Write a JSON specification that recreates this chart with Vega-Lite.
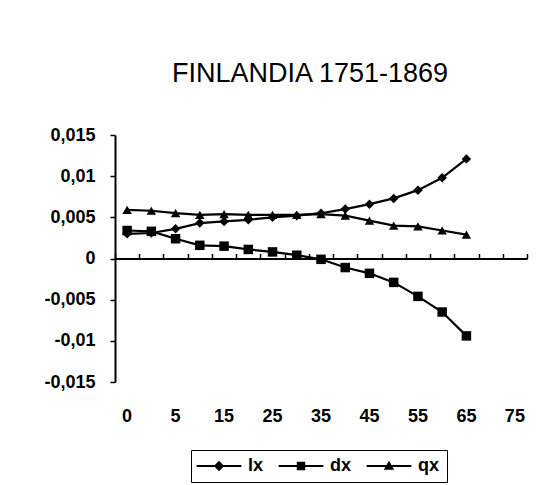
{
  "$schema": "https://vega.github.io/schema/vega-lite/v6.json",
  "width": 412,
  "height": 247,
  "autosize": "none",
  "padding": {"left": 115, "top": 135, "right": 15, "bottom": 103},
  "background": "white",
  "config": {"view": {"stroke": null}, "font": "Liberation Sans"},
  "title": {"text": "FINLANDIA 1751-1869", "fontSize": 27, "fontWeight": "normal", "font": "Liberation Sans", "color": "black", "anchor": "middle", "frame": "group", "dx": -11, "offset": 38},
  "data": {"values": [
    {"age": 0, "series": "lx", "value": 0.0030}, {"age": 1, "series": "lx", "value": 0.0031}, {"age": 5, "series": "lx", "value": 0.0036}, {"age": 10, "series": "lx", "value": 0.0043}, {"age": 15, "series": "lx", "value": 0.0045}, {"age": 20, "series": "lx", "value": 0.0047}, {"age": 25, "series": "lx", "value": 0.0050}, {"age": 30, "series": "lx", "value": 0.0052}, {"age": 35, "series": "lx", "value": 0.0055}, {"age": 40, "series": "lx", "value": 0.0060}, {"age": 45, "series": "lx", "value": 0.0066}, {"age": 50, "series": "lx", "value": 0.0073}, {"age": 55, "series": "lx", "value": 0.0083}, {"age": 60, "series": "lx", "value": 0.0098}, {"age": 65, "series": "lx", "value": 0.0121},
    {"age": 0, "series": "dx", "value": 0.0034}, {"age": 1, "series": "dx", "value": 0.0033}, {"age": 5, "series": "dx", "value": 0.0024}, {"age": 10, "series": "dx", "value": 0.0016}, {"age": 15, "series": "dx", "value": 0.0015}, {"age": 20, "series": "dx", "value": 0.0011}, {"age": 25, "series": "dx", "value": 0.0008}, {"age": 30, "series": "dx", "value": 0.0004}, {"age": 35, "series": "dx", "value": -0.0001}, {"age": 40, "series": "dx", "value": -0.0011}, {"age": 45, "series": "dx", "value": -0.0018}, {"age": 50, "series": "dx", "value": -0.0029}, {"age": 55, "series": "dx", "value": -0.0046}, {"age": 60, "series": "dx", "value": -0.0065}, {"age": 65, "series": "dx", "value": -0.0094},
    {"age": 0, "series": "qx", "value": 0.0059}, {"age": 1, "series": "qx", "value": 0.0058}, {"age": 5, "series": "qx", "value": 0.0055}, {"age": 10, "series": "qx", "value": 0.0053}, {"age": 15, "series": "qx", "value": 0.0054}, {"age": 20, "series": "qx", "value": 0.0053}, {"age": 25, "series": "qx", "value": 0.0053}, {"age": 30, "series": "qx", "value": 0.0053}, {"age": 35, "series": "qx", "value": 0.0054}, {"age": 40, "series": "qx", "value": 0.0052}, {"age": 45, "series": "qx", "value": 0.0046}, {"age": 50, "series": "qx", "value": 0.0040}, {"age": 55, "series": "qx", "value": 0.0039}, {"age": 60, "series": "qx", "value": 0.0034}, {"age": 65, "series": "qx", "value": 0.0029}
  ]},
  "encoding": {
    "y": {
      "field": "value", "type": "quantitative",
      "scale": {"domain": [-0.015, 0.015], "nice": false, "zero": false},
      "axis": {
        "values": [-0.015, -0.01, -0.005, 0, 0.005, 0.01, 0.015],
        "labelExpr": "(datum.value < 0 ? '-' : '') + replace(format(abs(datum.value), '.3~f'), '.', ',')",
        "title": null, "grid": false,
        "domainColor": "black", "domainWidth": 2,
        "tickColor": "black", "tickWidth": 1.5, "tickSize": 5,
        "labelPadding": 15, "labelFontSize": 18, "labelFontWeight": "bold", "labelColor": "black", "labelFont": "Liberation Sans"
      }
    }
  },
  "layer": [
    {
      "mark": {"type": "line", "color": "black", "strokeWidth": 2.2},
      "encoding": {
        "detail": {"field": "series"},
        "x": {
          "field": "age", "type": "ordinal",
          "scale": {"type": "band", "domain": [0, 1, 5, 10, 15, 20, 25, 30, 35, 40, 45, 50, 55, 60, 65, 70, 75], "paddingInner": 0, "paddingOuter": 0},
          "axis": {"orient": "top", "offset": -123.5, "labels": false, "title": null, "grid": false, "domainColor": "black", "domainWidth": 2, "ticks": true, "tickBand": "extent", "tickSize": 5, "tickColor": "black", "tickWidth": 1.5}
        }
      }
    },
    {
      "mark": {"type": "point", "filled": true, "color": "black", "size": 90, "opacity": 1},
      "encoding": {
        "x": {
          "field": "age", "type": "ordinal",
          "axis": {"orient": "bottom", "offset": 0, "domain": false, "ticks": false, "tickSize": 0, "labelPadding": 25, "labelExpr": "indexof([0,5,15,25,35,45,55,65,75], datum.value) >= 0 ? datum.label : ''", "labelAngle": 0, "labelFontSize": 18, "labelFontWeight": "bold", "labelColor": "black", "labelFont": "Liberation Sans", "title": null, "labelOverlap": false, "grid": false}
        },
        "shape": {"field": "series", "type": "nominal", "scale": {"domain": ["lx", "dx", "qx"], "range": ["diamond", "square", "triangle-up"]}, "legend": null}
      }
    },
    {
      "mark": {"type": "point", "filled": true, "color": "black", "opacity": 0},
      "encoding": {
        "x": {"field": "age", "type": "ordinal", "axis": null},
        "shape": {
          "field": "series", "type": "nominal",
          "scale": {"domain": ["lx", "dx", "qx"], "range": [
            "M-3.2,-0.13H3.2V0.13H-3.2ZM0,-0.75L0.75,0L0,0.75L-0.75,0Z",
            "M-3.2,-0.13H3.2V0.13H-3.2ZM-0.6,-0.6H0.6V0.6H-0.6Z",
            "M-3.2,-0.13H3.2V0.13H-3.2ZM0,-0.75L0.75,0.55H-0.75Z"
          ]},
          "legend": {
            "title": null, "orient": "none", "legendX": 76, "legendY": 315,
            "direction": "horizontal", "columns": 3,
            "strokeColor": "black", "fillColor": "white", "padding": 7,
            "symbolSize": 196, "symbolStrokeColor": "black", "symbolFillColor": "black", "symbolStrokeWidth": 0, "symbolOpacity": 1,
            "symbolOffset": 12, "labelOffset": 20, "columnPadding": 14,
            "labelFontSize": 18, "labelFontWeight": "bold", "labelColor": "black", "labelFont": "Liberation Sans"
          }
        }
      }
    }
  ],
  "resolve": {"scale": {"shape": "independent"}, "axis": {"x": "independent"}}
}
